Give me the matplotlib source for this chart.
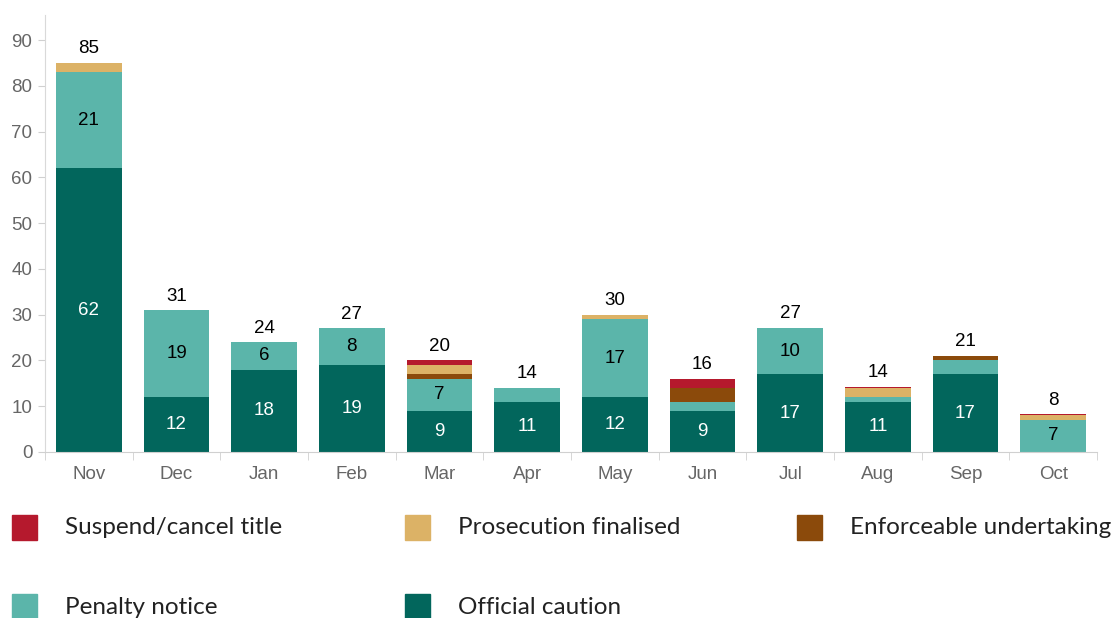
import numpy as np
import matplotlib.pyplot as plt
from matplotlib.patches import Rectangle

months = ['Nov', 'Dec', 'Jan', 'Feb', 'Mar', 'Apr', 'May', 'Jun', 'Jul', 'Aug', 'Sep', 'Oct']
official = [62, 12, 18, 19, 9, 11, 12, 9, 17, 11, 17, 0]
penalty = [21, 19, 6, 8, 7, 3, 17, 2, 10, 1, 3, 7]
enforceable = [0, 0, 0, 0, 1, 0, 0, 3, 0, 0, 1, 0]
prosecution = [2, 0, 0, 0, 2, 0, 1, 0, 0.2, 2, 0, 1]
suspend = [0, 0, 0, 0, 1, 0, 0, 2, 0, 0.2, 0, 0.2]

c_official = '#02665c'
c_penalty = '#5bb5aa'
c_enforce = '#8b4a0b'
c_prosec = '#dcb266'
c_suspend = '#b5192d'

plt.rcParams['font.family'] = 'Liberation Sans'
numfont = 'Liberation Sans'

fig = plt.figure(figsize=(11.13, 6.18), dpi=100)
ax = fig.add_axes([45/1113, 1 - 452/618, 1052/1113, 437/618])

x = np.arange(len(months))
w = 0.75
series = [(official, c_official), (penalty, c_penalty), (enforceable, c_enforce),
          (prosecution, c_prosec), (suspend, c_suspend)]
bottom = np.zeros(len(months))
for vals, col in series:
    v = np.array(vals, dtype=float)
    ax.bar(x, v, w, bottom=bottom, color=col, linewidth=0)
    bottom += v

# segment labels + totals
for i in range(len(months)):
    if official[i] >= 5:
        ax.text(x[i], official[i] / 2, str(official[i]), ha='center', va='center',
                color='white', fontsize=13.5, fontname=numfont)
    if penalty[i] >= 5:
        ax.text(x[i], official[i] + penalty[i] / 2, str(penalty[i]), ha='center',
                va='center', color='black', fontsize=13.5, fontname=numfont)
    ax.annotate(str(int(round(bottom[i]))), (x[i], bottom[i]), xytext=(0, 4),
                textcoords='offset points', ha='center', va='bottom', fontsize=13.5,
                fontname=numfont)

ax.set_xlim(-0.5, len(months) - 0.5)
ax.set_ylim(0, 95.5)
ax.set_yticks(range(0, 91, 10))
ax.set_xticks(x)
ax.set_xticklabels(months, fontname=numfont)
ax.set_yticklabels([str(t) for t in range(0, 91, 10)], fontname=numfont)
ax.set_xticks(np.arange(-0.5, len(months)), minor=True)
ax.tick_params(axis='x', which='major', length=0, pad=10, labelsize=13.5, labelcolor='#666666')
ax.tick_params(axis='x', which='minor', length=6, color='#d0d0d0')
ax.tick_params(axis='y', length=5, color='#d0d0d0', labelsize=13.5, labelcolor='#666666', pad=4)
for s in ['top', 'right']:
    ax.spines[s].set_visible(False)
ax.spines['left'].set_color('#d9d9d9')
ax.spines['bottom'].set_color('#d0d0d0')

# legend, drawn by hand to keep the row layout
items = [('Suspend/cancel title', c_suspend, 12, 527),
         ('Prosecution finalised', c_prosec, 405, 527),
         ('Enforceable undertaking', c_enforce, 797, 527),
         ('Penalty notice', c_penalty, 12, 606),
         ('Official caution', c_official, 405, 606)]
for lab, col, px, py in items:
    fig.add_artist(Rectangle((px/1113, 1 - (py + 12.5)/618), 25/1113, 25/618,
                             color=col, transform=fig.transFigure))
    fig.text((px + 53)/1113, 1 - (py + 1)/618, lab, ha='left', va='center', fontsize=17.5,
             color='#222222', fontname='Lato')

fig.savefig('out.png', dpi=100)
